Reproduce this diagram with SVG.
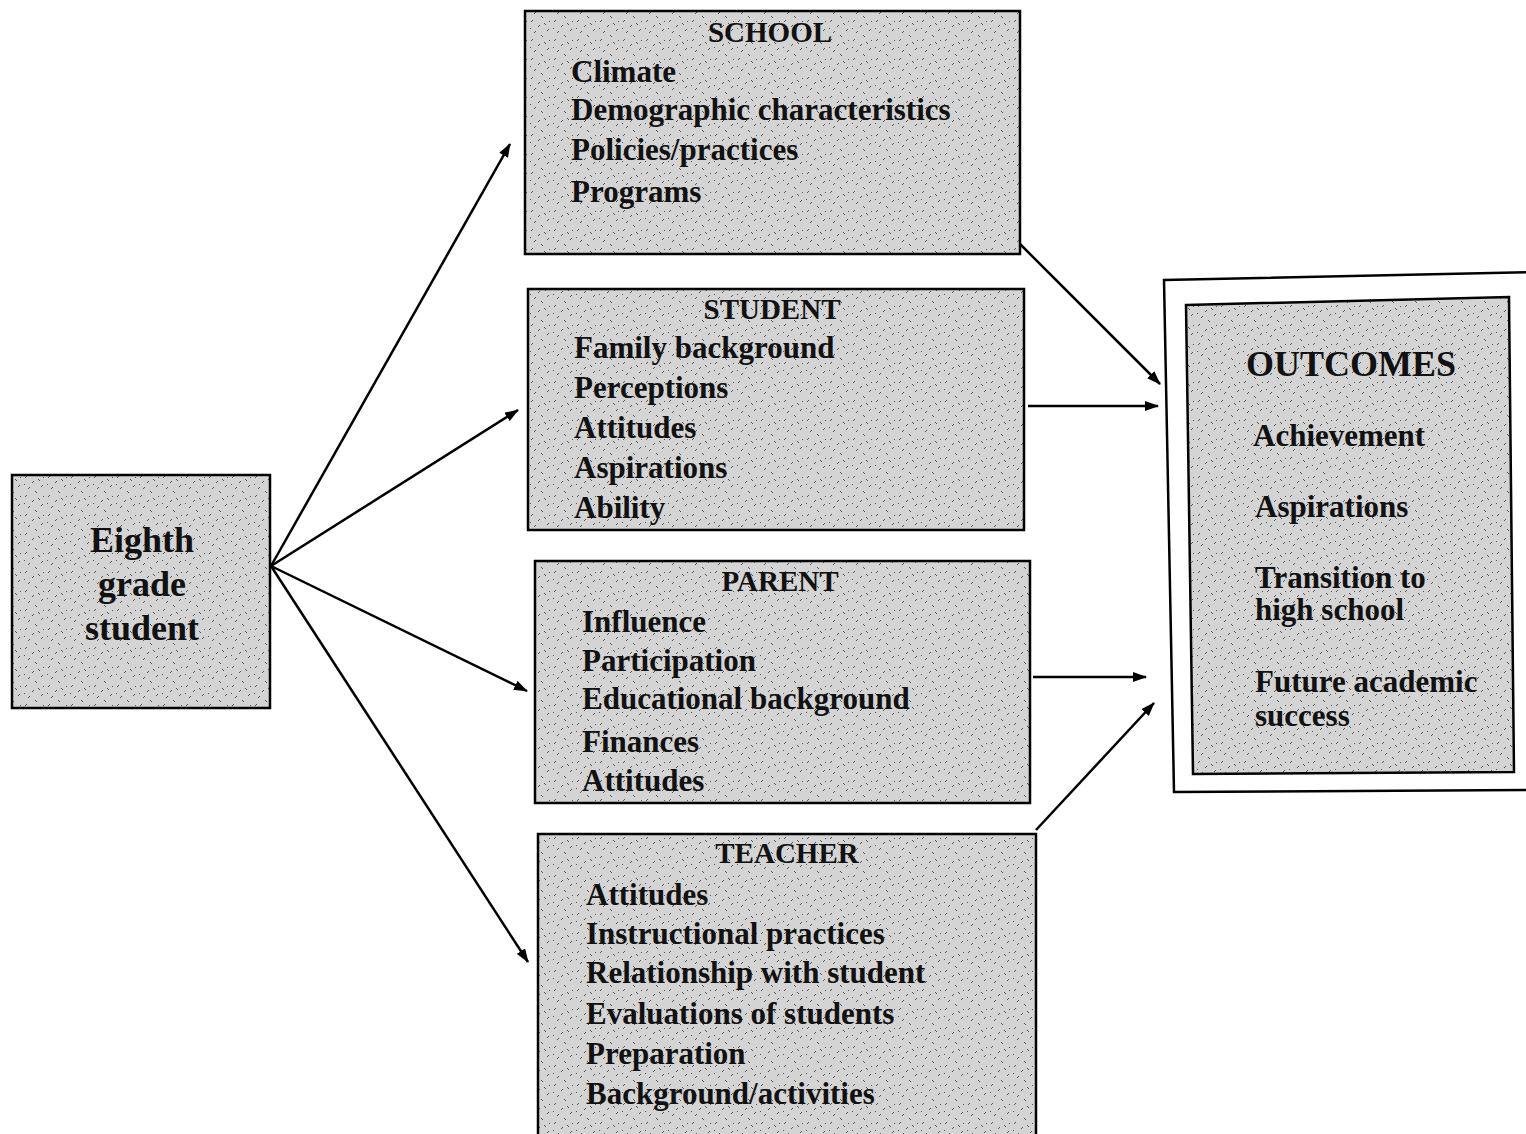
<svg xmlns="http://www.w3.org/2000/svg" width="1526" height="1134" viewBox="0 0 1526 1134">
<defs>
<pattern id="stip" width="23" height="19" patternUnits="userSpaceOnUse">
<rect width="23" height="19" fill="#d4d4d4"/>
<path d="M2 3l2-2M9 8l2-2M15 4l2 2M5 14l2-2M18 12l2-2M12 16l2 2M20 2l1 1M1 9l1 1" stroke="#555" stroke-width="1" fill="none"/>
</pattern>
<marker id="ah" viewBox="0 0 14 10" refX="13" refY="5" markerWidth="14" markerHeight="10" markerUnits="userSpaceOnUse" orient="auto">
<path d="M0 0L14 5L0 10z" fill="#000"/>
</marker>
<style>
.box{fill:url(#stip);stroke:#000;stroke-width:2.5}
.t{font-family:"Liberation Serif","Times New Roman",serif;font-weight:bold;font-size:31px;fill:#111}
.h{font-size:29px}
.c{text-anchor:middle}
.big{font-size:36px}
.out{font-size:36px}
.ln{stroke:#000;stroke-width:2.5;fill:none;marker-end:url(#ah)}
</style>
</defs>
<rect width="1526" height="1134" fill="#fff"/>

<g id="connectors">
<line class="ln" x1="271" y1="566" x2="510" y2="144"/>
<line class="ln" x1="271" y1="566" x2="518" y2="410"/>
<line class="ln" x1="271" y1="566" x2="527" y2="691"/>
<line class="ln" x1="271" y1="566" x2="528" y2="962"/>
<line class="ln" x1="1020" y1="244" x2="1160" y2="384"/>
<line class="ln" x1="1028" y1="406" x2="1158" y2="406"/>
<line class="ln" x1="1033" y1="677" x2="1146" y2="677"/>
<line class="ln" x1="1036" y1="830" x2="1154" y2="703"/>
</g>

<g id="eighth">
<rect class="box" x="12" y="475" width="258" height="233"/>
<text class="t c big" x="142" y="552">Eighth</text>
<text class="t c big" x="142" y="596">grade</text>
<text class="t c big" x="142" y="640">student</text>
</g>

<g id="school">
<rect class="box" x="525" y="11" width="495" height="243"/>
<text class="t c h" x="770" y="42">SCHOOL</text>
<text class="t" x="571" y="82">Climate</text>
<text class="t" x="571" y="120">Demographic characteristics</text>
<text class="t" x="571" y="160">Policies/practices</text>
<text class="t" x="571" y="202">Programs</text>
</g>

<g id="student">
<rect class="box" x="528" y="289" width="496" height="241"/>
<text class="t c h" x="772" y="319">STUDENT</text>
<text class="t" x="574" y="358">Family background</text>
<text class="t" x="574" y="398">Perceptions</text>
<text class="t" x="574" y="438">Attitudes</text>
<text class="t" x="574" y="478">Aspirations</text>
<text class="t" x="574" y="518">Ability</text>
</g>

<g id="parent">
<rect class="box" x="535" y="561" width="495" height="242"/>
<text class="t c h" x="780" y="591">PARENT</text>
<text class="t" x="582" y="632">Influence</text>
<text class="t" x="582" y="671">Participation</text>
<text class="t" x="582" y="709">Educational background</text>
<text class="t" x="582" y="752">Finances</text>
<text class="t" x="582" y="791">Attitudes</text>
</g>

<g id="teacher">
<rect class="box" x="538" y="834" width="498" height="310"/>
<text class="t c h" x="787" y="863">TEACHER</text>
<text class="t" x="586" y="905">Attitudes</text>
<text class="t" x="586" y="944">Instructional practices</text>
<text class="t" x="586" y="983">Relationship with student</text>
<text class="t" x="586" y="1024">Evaluations of students</text>
<text class="t" x="586" y="1064">Preparation</text>
<text class="t" x="586" y="1104">Background/activities</text>
</g>

<g id="outcomes">
<path d="M1164 280L1540 272L1540 790L1174 792Z" fill="#fff" stroke="#000" stroke-width="2.5"/>
<path d="M1186 305L1509 297L1514 772L1193 774Z" fill="url(#stip)" stroke="#000" stroke-width="2.5"/>
<text class="t c out" x="1351" y="376">OUTCOMES</text>
<text class="t" x="1253" y="446">Achievement</text>
<text class="t" x="1255" y="517">Aspirations</text>
<text class="t" x="1255" y="588">Transition to</text>
<text class="t" x="1255" y="620">high school</text>
<text class="t" x="1255" y="692">Future academic</text>
<text class="t" x="1255" y="726">success</text>
</g>
</svg>
